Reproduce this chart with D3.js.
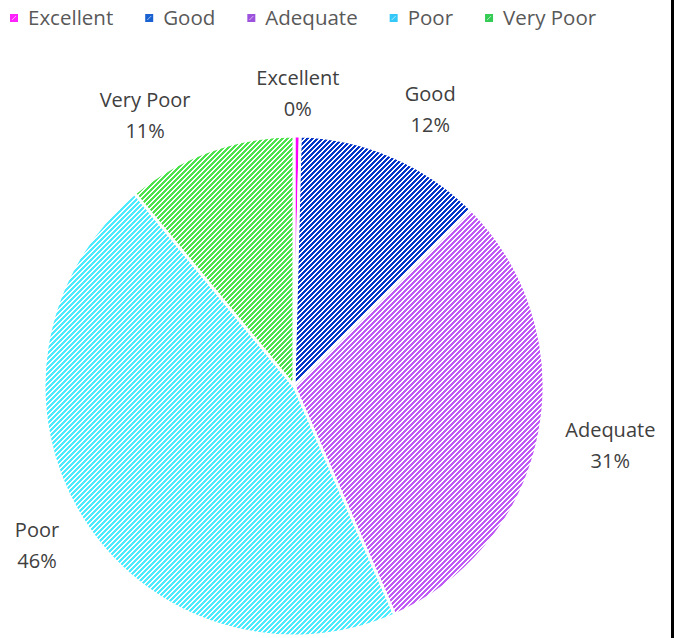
<!DOCTYPE html>
<html>
<head>
<meta charset="utf-8">
<script src="https://cdn.jsdelivr.net/npm/d3@7"></script>
<style>
  html, body { margin: 0; padding: 0; background: #fff; }
  svg { display: block; font-family: "Open Sans", "Noto Sans", sans-serif; }
</style>
</head>
<body>
<div id="chart"></div>
<script>
// ratings share (percent)
const categories = ["Excellent", "Good", "Adequate", "Poor", "Very Poor"];
const values = [0.4, 12.1, 30.9, 45.6, 11.0];
const colors = ["#ff00ff", "#0633c8", "#c05cf5", "#4eeaff", "#4be24b"];
const legendColors = ["#ff22ff", "#1a62d2", "#9c52dc", "#34c8f8", "#34cc54"];

const width = 674, height = 638;
const cx = 294, cy = 386, r = 250;
const plotTop = 64; // labels stay inside the plot area

const svg = d3.select("#chart").append("svg")
    .attr("width", width)
    .attr("height", height);

svg.append("rect").attr("width", width).attr("height", height).attr("fill", "#fff");

// striped fills, "wide upward diagonal": 5px tile, 3px of colour per row
const defs = svg.append("defs");
const tile = 5, ink = 3;
function stripes(id, color) {
    const p = defs.append("pattern")
        .attr("id", id)
        .attr("patternUnits", "userSpaceOnUse")
        .attr("width", tile)
        .attr("height", tile);
    p.append("rect").attr("width", tile).attr("height", tile).attr("fill", "#fff");
    d3.range(tile).forEach(y => {
        const x0 = (tile - 1 - y);
        [x0, x0 - tile].forEach(x => {
            p.append("rect").attr("x", x).attr("y", y).attr("width", ink).attr("height", 1)
                .attr("fill", color).attr("shape-rendering", "crispEdges");
        });
    });
}
categories.forEach((c, i) => stripes("pat" + i, colors[i]));

const total = d3.sum(values);
const pie = d3.pie().sort(null).value(d => d)(values);
const arc = d3.arc().innerRadius(0).outerRadius(r);

const g = svg.append("g").attr("transform", `translate(${cx},${cy})`);

g.selectAll("path.slice")
    .data(pie)
    .join("path")
    .attr("class", "slice")
    .attr("d", arc)
    .attr("fill", (d, i) => i === 0 ? colors[0] : `url(#pat${i})`)
    .attr("stroke", "#fff")
    .attr("stroke-width", 3)
    .attr("stroke-linejoin", "round");

// data labels outside the pie
const lineH = 31, ra = r + 26, gap = 64;
const labels = g.selectAll("g.lbl")
    .data(pie)
    .join("g")
    .attr("class", "lbl");

const boxes = [];
labels.each(function (d, i) {
    const t = d3.select(this).append("text")
        .attr("text-anchor", "middle")
        .attr("fill", "#404040")
        .style("font-size", "20px");
    t.append("tspan").attr("x", 0).attr("dy", 0).text(categories[i]);
    t.append("tspan").attr("x", 0).attr("dy", lineH)
        .text(Math.round(d.data / total * 100) + "%");
    boxes.push(t.node().getBBox());
});

function place(i, a) {
    const bb = boxes[i];
    const s = Math.sin(a), c = Math.cos(a);
    const edge = Math.min(bb.width / 2 / Math.max(Math.abs(s), 1e-6), bb.height / 2 / Math.max(Math.abs(c), 1e-6));
    const dist = ra + edge;
    const x = dist * s;
    const y = Math.max(dist * -c, plotTop - cy + bb.height / 2);
    return {x, y, l: x - bb.width / 2, r: x + bb.width / 2, t: y - bb.height / 2, b: y + bb.height / 2};
}
const angles = pie.map(d => (d.startAngle + d.endAngle) / 2);
// push neighbours of the tiny first label away from it
const anchor = place(0, angles[0]);
const clash = p => p.t < anchor.b && p.b > anchor.t && p.l < anchor.r + gap && p.r > anchor.l - gap;
[1, pie.length - 1].forEach(i => {
    const dir = i === 1 ? 1 : -1;
    let n = 0;
    while (clash(place(i, angles[i])) && n++ < 90) angles[i] += dir * Math.PI / 360;
});

labels.attr("transform", (d, i) => {
    const p = place(i, angles[i]);
    const bb = boxes[i];
    return `translate(${p.x - (bb.x + bb.width / 2)},${p.y - (bb.y + bb.height / 2)})`;
});

// legend
const legend = svg.append("g").attr("transform", "translate(10,18)");
let lx = 0;
categories.forEach((c, i) => {
    const item = legend.append("g").attr("transform", `translate(${lx},0)`);
    item.append("rect")
        .attr("x", 0).attr("y", -4)
        .attr("width", 8).attr("height", 8)
        .attr("fill", legendColors[i]);
    item.append("line")
        .attr("x1", 2).attr("y1", 2).attr("x2", 6).attr("y2", -2)
        .attr("stroke", "#fff").attr("stroke-opacity", 0.6).attr("stroke-width", 1);
    const t = item.append("text")
        .attr("x", 18).attr("y", 7)
        .attr("fill", "#595959")
        .style("font-size", "20.5px")
        .text(c);
    lx += 18 + t.node().getComputedTextLength() + 32;
});

// frame edge on the right
svg.append("rect").attr("x", 671).attr("y", 0).attr("width", 3).attr("height", height).attr("fill", "#000");
</script>
</body>
</html>
